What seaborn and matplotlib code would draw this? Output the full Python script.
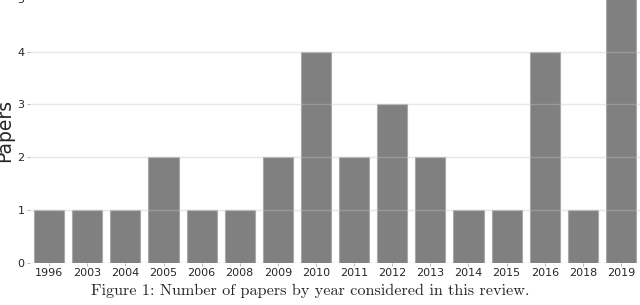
import matplotlib
matplotlib.use("Agg")
import matplotlib.pyplot as plt
import seaborn as sns
import pandas as pd

years = ["1996", "2003", "2004", "2005", "2006", "2008", "2009", "2010",
         "2011", "2012", "2013", "2014", "2015", "2016", "2018", "2019"]
papers = [1, 1, 1, 2, 1, 1, 2, 4, 2, 3, 2, 1, 1, 4, 1, 5]
caption = "Figure 1: Number of papers by year considered in this review."

df = pd.DataFrame({"year": years, "papers": papers})

sns.set_theme(style="whitegrid")
plt.rcParams["font.family"] = ["DejaVu Sans"]

fig = plt.figure(figsize=(6.4, 3.05), dpi=100)
ax = fig.add_axes([0.047, 0.138, 0.953, 0.866])

sns.barplot(data=df, x="year", y="papers", color="#808080", saturation=1,
            width=0.79, edgecolor="#a8a8a8", linewidth=0.8, ax=ax)

ax.set_xlim(-0.5, len(years) - 0.5)
ax.set_ylim(0, 5)
ax.set_yticks(range(6))
ax.grid(axis="y", color="#e3e3e3", linewidth=1.0)
ax.grid(axis="x", visible=False)
ax.set_axisbelow(True)
# faint grid lines showing through the bars
for yv in ax.get_yticks()[1:]:
    ax.axhline(yv, color="white", alpha=0.2, linewidth=1.0, zorder=5)
for s in ax.spines.values():
    s.set_visible(False)
ax.tick_params(axis="both", length=2.5, width=0.6, color="#aaaaaa",
               labelsize=8, pad=1.5, left=True, bottom=True)
ax.set_xlabel("")
ax.set_ylabel("Papers", fontsize=13.5, labelpad=2)

fig.text(0.485, 0.045, caption, ha="center", va="center", fontsize=11.7,
         family=["cmr10", "DejaVu Serif"])

fig.savefig("out.png", dpi=100)
